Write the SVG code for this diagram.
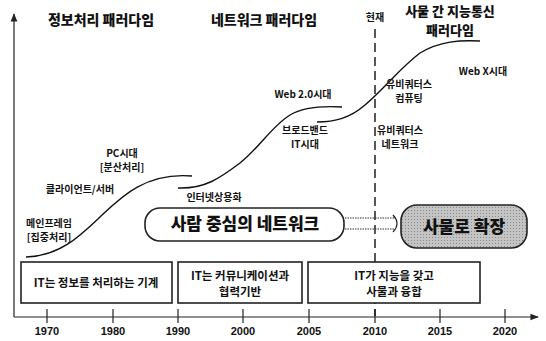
<svg xmlns="http://www.w3.org/2000/svg" width="546" height="341" viewBox="0 0 546 341">
<style>
text{font-family:"Noto Sans CJK KR","Liberation Sans",sans-serif;font-weight:bold;fill:#111;text-anchor:middle}
.t{font-size:14px;font-weight:900}
.s{font-size:10px}
.b{font-size:11.5px}
.yr{font-size:11px;font-family:"Liberation Sans Narrow","Liberation Sans",sans-serif}
.curve{fill:none;stroke:#111;stroke-width:1.4}
.box{fill:#fff;stroke:#222;stroke-width:1.6}
.ax{stroke:#222;stroke-width:1.2;fill:none}
</style>
<defs>
<marker id="ah" viewBox="0 0 10 10" refX="9" refY="5" markerWidth="7" markerHeight="7" orient="auto-start-reverse">
<path d="M0,1 L10,5 L0,9 Z" fill="#222"/>
</marker>
<pattern id="dots" width="3" height="3" patternUnits="userSpaceOnUse">
<rect width="3" height="3" fill="#c4c4c4"/>
<rect width="1" height="1" fill="#8a8a8a"/>
</pattern>
</defs>

<g id="axes">
<line class="ax" x1="14" y1="317" x2="14" y2="14" marker-end="url(#ah)"/>
<line class="ax" x1="14" y1="317" x2="538" y2="317" marker-end="url(#ah)"/>
<g class="ax">
<line x1="47" y1="309" x2="47" y2="323"/><line x1="113" y1="309" x2="113" y2="323"/>
<line x1="178" y1="309" x2="178" y2="323"/><line x1="243" y1="309" x2="243" y2="323"/>
<line x1="309" y1="309" x2="309" y2="323"/><line x1="375" y1="309" x2="375" y2="323"/>
<line x1="440" y1="309" x2="440" y2="323"/><line x1="505" y1="309" x2="505" y2="323"/>
</g>
<text class="yr" x="47" y="335">1970</text><text class="yr" x="113" y="335">1980</text>
<text class="yr" x="178" y="335">1990</text><text class="yr" x="243" y="335">2000</text>
<text class="yr" x="309" y="335">2005</text><text class="yr" x="375" y="335">2010</text>
<text class="yr" x="440" y="335">2015</text><text class="yr" x="505" y="335">2020</text>
</g>

<g id="titles">
<text class="t" x="101" y="25">정보처리 패러다임</text>
<text class="t" x="264" y="25">네트워크 패러다임</text>
<text class="t" x="450" y="16" style="font-size:13px">사물 간 지능통신</text>
<text class="t" x="450" y="35" style="font-size:13px">패러다임</text>
</g>

<g id="now">
<line x1="375" y1="29" x2="375" y2="316" stroke="#111" stroke-width="1.4" stroke-dasharray="9 5"/>
<text class="s" x="375" y="21">현재</text>
</g>

<g id="connectors">
<path class="curve" d="M26,257 C60,256 80,236 100,217 C120,198 145,172 192,176"/>
<path class="curve" d="M178,188 C205,189 220,178 240,163 C260,147 272,126 290,115 C305,106 325,106 342,107"/>
<path class="curve" d="M317,122 C335,122 350,118 365,105 C385,88 400,68 420,53 C440,41 460,40 480,41"/>
<path d="M345,218 H394 M345,229 H394" stroke="#333" stroke-width="1.2" stroke-dasharray="1.5 1" fill="none"/>
<path d="M393,215 Q401,223.5 393,232" stroke="#222" stroke-width="1.2" fill="none"/>
</g>

<g id="labels">
<text class="s" x="49" y="227">메인프레임</text>
<text class="s" x="49" y="241">[집중처리]</text>
<text class="s" x="80" y="193">클라이언트/서버</text>
<text class="s" x="122" y="157">PC시대</text>
<text class="s" x="122" y="171">[분산처리]</text>
<text class="s" x="214" y="201">인터넷상용화</text>
<text class="s" x="303" y="98">Web 2.0시대</text>
<text class="s" x="305" y="134">브로드밴드</text>
<text class="s" x="305" y="148">IT시대</text>
<text class="s" x="400" y="134">유비쿼터스</text>
<text class="s" x="400" y="148">네트워크</text>
<text class="s" x="409" y="88">유비쿼터스</text>
<text class="s" x="409" y="102">컴퓨팅</text>
<text class="s" x="483" y="75">Web X시대</text>
</g>

<g id="people-network">
<rect class="box" x="145" y="208" width="199" height="33" rx="15"/>
<text x="245" y="230" style="font-size:17px;font-weight:900">사람 중심의 네트워크</text>
</g>

<g id="things-expand">
<rect x="401" y="205" width="126" height="43" rx="16" fill="url(#dots)" stroke="#222" stroke-width="1.6"/>
<text x="464" y="233" style="font-size:17px;font-weight:900">사물로 확장</text>
</g>

<g id="era1">
<rect class="box" x="21" y="262" width="151" height="41"/>
<text class="b" x="96" y="287">IT는 정보를 처리하는 기계</text>
</g>
<g id="era2">
<rect class="box" x="178" y="262" width="124" height="41"/>
<text class="b" x="240" y="280">IT는 커뮤니케이션과</text>
<text class="b" x="240" y="296">협력기반</text>
</g>
<g id="era3">
<rect class="box" x="308" y="262" width="172" height="41"/>
<text class="b" x="394" y="280">IT가 지능을 갖고</text>
<text class="b" x="394" y="296">사물과 융합</text>
</g>
</svg>
